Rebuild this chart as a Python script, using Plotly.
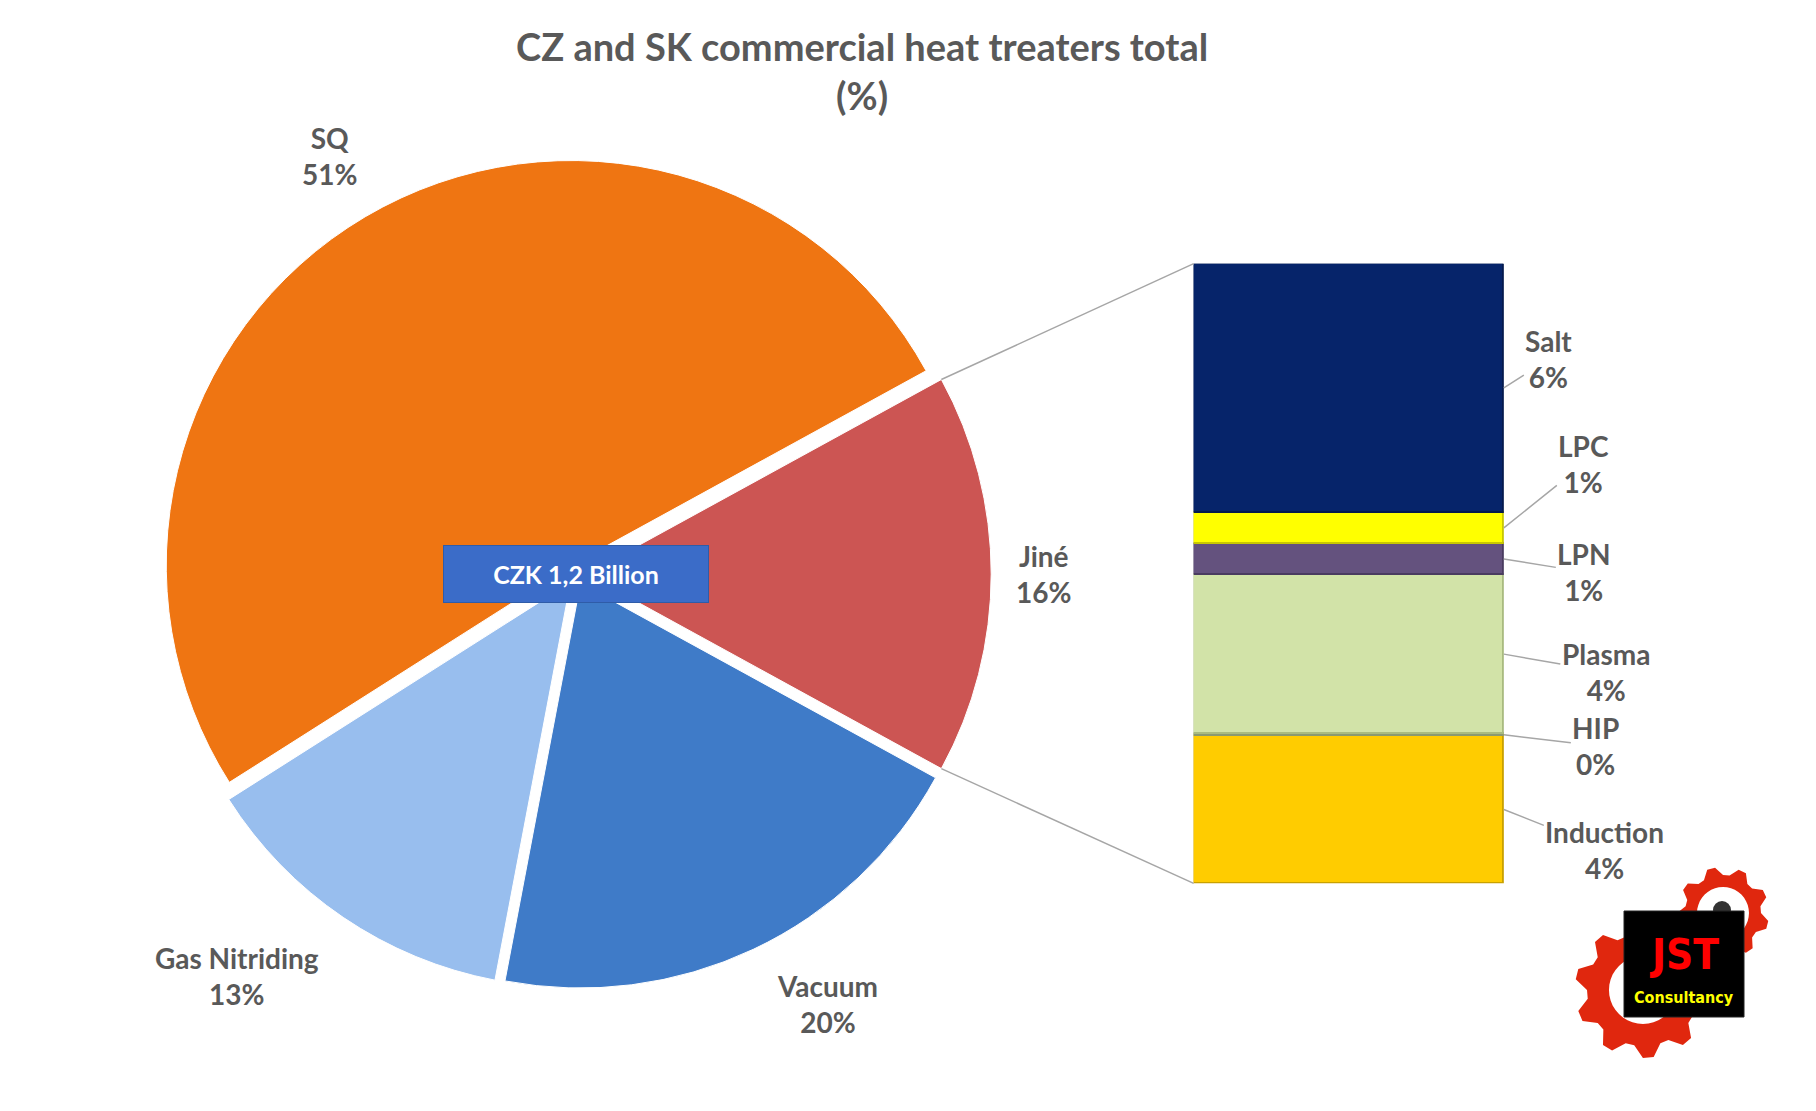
import math
import plotly.graph_objects as go

# pie data (main split)
pie_labels = ["SQ", "Jiné", "Vacuum", "Gas Nitriding"]
pie_colors = ["#EF7512", "#CC5553", "#3F7BC8", "#98BEEE"]

# breakdown of "Jiné" shown in the stacked bar (bottom -> top)
bar_labels = ["Induction", "HIP", "Plasma", "LPN", "LPC", "Salt"]
bar_values = [3.8, 0.05, 4.1, 0.8, 0.8, 6.4]
bar_colors = ["#FFCC00", "#A9B98A", "#D2E3A8", "#64527E", "#FFFF00", "#06246A"]
bar_lines = ["#C9A100", "#8A9A70", "#A9BB80", "#4A3C60", "#C8C800", "#041A4E"]

pie_values = [51, sum(bar_values), 20, 13]

W, H = 1816, 1111
GREY = "#595959"
FONT = "Lato"
NARROW = "Liberation Sans Narrow, DejaVu Sans Condensed, sans-serif"

pie_dom_x = [0.0844, 0.5414]
pie_dom_y = [0.117, 0.864]
pull = 0.025
bar_dom_x = [0.6529, 0.8237]
bar_dom_y = [0.2121, 0.7699]

total = sum(pie_values)
# rotate so that "Jiné" is centred on the right (3 o'clock), like Excel pie-of-bar
rotation = 90 - 360 * (pie_values[0] + pie_values[1] / 2) / total


def px(xp, yp):
    return xp / W, 1 - yp / H


fig = go.Figure()

fig.add_trace(go.Pie(
    labels=pie_labels,
    values=pie_values,
    sort=False,
    direction="clockwise",
    rotation=rotation,
    pull=[pull] * 4,
    marker=dict(colors=pie_colors, line=dict(color="white", width=1)),
    textinfo="none",
    domain=dict(x=pie_dom_x, y=pie_dom_y),
    hoverinfo="label+percent",
    showlegend=False,
))

for lab, v, c, lc in zip(bar_labels, bar_values, bar_colors, bar_lines):
    fig.add_trace(go.Bar(
        x=[0], y=[v], width=1, name=lab,
        marker=dict(color=c, line=dict(color=lc, width=1.5)),
        xaxis="x", yaxis="y", showlegend=False,
        hovertemplate=lab + ": %{y}<extra></extra>",
    ))

label_font = dict(family=FONT, size=28, color=GREY, weight="bold")
annotations = []

# pie geometry in pixels
pw = (pie_dom_x[1] - pie_dom_x[0]) * W
ph = (pie_dom_y[1] - pie_dom_y[0]) * H
r = min(pw, ph) / 2 / (1 + pull)
cx_p = (pie_dom_x[0] + pie_dom_x[1]) / 2
cy_p = (pie_dom_y[0] + pie_dom_y[1]) / 2
cxp = cx_p * W
cyp = (1 - cy_p) * H

# pie labels: radius factor and angle tweak per slice
lab_rf = [1.20, 1.155, 1.23, 1.30]
lab_da = [0, 0, 5, -6]
cum = 0
for lab, v, rf, da in zip(pie_labels, pie_values, lab_rf, lab_da):
    mid_c = rotation + 360 * (cum + v / 2) / total
    cum += v
    a = math.radians(90 - mid_c + da)
    lx, ly = px(cxp + rf * r * math.cos(a), cyp - rf * r * math.sin(a))
    annotations.append(dict(
        x=lx, y=ly, xref="paper", yref="paper", showarrow=False,
        xanchor="center", yanchor="middle",
        text=f"{lab}<br>{v / total * 100:.0f}%", font=label_font,
    ))

# label offsets (pixels) for the bar segment labels
offsets = {"Salt": (45, -29), "LPC": (80, -64), "LPN": (80, 13),
           "Plasma": (102, 18), "HIP": (92, 11), "Induction": (101, 40)}

cum = 0
for lab, v in zip(bar_labels, bar_values):
    mid = cum + v / 2
    cum += v
    ax, ay = offsets[lab]
    annotations.append(dict(
        x=0.5, y=mid, xref="x", yref="y",
        text=f"{lab}<br>{v / total * 100:.0f}%",
        showarrow=True, arrowhead=0, arrowwidth=1.5, arrowcolor="#A6A6A6",
        ax=ax, ay=ay, font=label_font,
    ))

# centre label
annotations.append(dict(
    x=cx_p, y=cy_p, xref="paper", yref="paper", showarrow=False,
    xanchor="center", yanchor="middle",
    text="CZK 1,2 Billion", width=262, height=54,
    bgcolor="#3B6CC8", bordercolor="#2F5CA8", borderwidth=1,
    font=dict(family=FONT, size=25, color="white", weight="bold"),
))

# title
annotations.append(dict(
    x=0.4705, y=0.944, xref="paper", yref="paper", showarrow=False,
    xanchor="center", yanchor="middle",
    text="CZ and SK commercial heat treaters total<br>(%)",
    font=dict(family=FONT, size=38, color=GREY, weight="bold"),
))

# connector lines from "Jiné" slice edges to the bar
half = math.pi * pie_values[1] / total
shapes = []
for sgn, by in [(1, bar_dom_y[1]), (-1, bar_dom_y[0])]:
    ex = cxp + pull * r + r * math.cos(half)
    ey = cyp - sgn * r * math.sin(half)
    x0, y0 = px(ex, ey)
    shapes.append(dict(type="line", xref="paper", yref="paper",
                       x0=x0, y0=y0, x1=bar_dom_x[0], y1=by,
                       line=dict(color="#A6A6A6", width=1.5)))


# logo: two red gears and a black badge
def gear(cx, cy, r_tip, r_root, r_hole, teeth):
    pts = []
    n = teeth * 4
    for i in range(n):
        a = 2 * math.pi * i / n
        rr = r_tip if (i % 4) in (1, 2) else r_root
        pts.append((cx + rr * math.cos(a), cy + rr * math.sin(a)))
    d = "M " + " L ".join("%.4f,%.4f" % px(x, y) for x, y in pts) + " Z"
    hole = []
    for i in range(40):
        a = 2 * math.pi * i / 40
        hole.append((cx + r_hole * math.cos(a), cy + r_hole * math.sin(a)))
    d += " M " + " L ".join("%.4f,%.4f" % px(x, y) for x, y in hole) + " Z"
    return d


for g in [(1635, 982, 68, 56, 34, 10), (1715, 905, 46, 38, 26, 9)]:
    shapes.append(dict(type="path", xref="paper", yref="paper", path=gear(*g),
                       fillcolor="#E0270E", fillrule="evenodd", line=dict(width=0)))
dx0, dy0 = px(1705, 893)
dx1, dy1 = px(1723, 911)
shapes.append(dict(type="circle", xref="paper", yref="paper", x0=dx0, y0=dy0, x1=dx1, y1=dy1,
                   fillcolor="#333333", line=dict(width=0)))
bx0, by0 = px(1616, 903)
bx1, by1 = px(1736, 1009)
shapes.append(dict(type="rect", xref="paper", yref="paper", x0=bx0, y0=by0, x1=bx1, y1=by1,
                   fillcolor="black", line=dict(color="#222222", width=1)))
jx, jy = px(1676, 946)
annotations.append(dict(x=jx, y=jy, xref="paper", yref="paper", showarrow=False,
                        xanchor="center", yanchor="middle",
                        text="JST", font=dict(family=NARROW, size=42,
                                              color="#FF0000", weight="bold")))
kx, ky = px(1676, 989)
annotations.append(dict(x=kx, y=ky, xref="paper", yref="paper", showarrow=False,
                        xanchor="center", yanchor="middle",
                        text="Consultancy", font=dict(family=NARROW, size=16,
                                                      color="#FFFF00", weight="bold")))

fig.update_layout(
    width=W, height=H,
    margin=dict(l=0, r=0, t=0, b=0),
    paper_bgcolor="white", plot_bgcolor="white",
    barmode="stack", bargap=0,
    xaxis=dict(domain=bar_dom_x, range=[-0.5, 0.5], visible=False),
    yaxis=dict(domain=bar_dom_y, range=[0, sum(bar_values)], visible=False),
    annotations=annotations,
    shapes=shapes,
    showlegend=False,
)

fig.write_html("out.html")
